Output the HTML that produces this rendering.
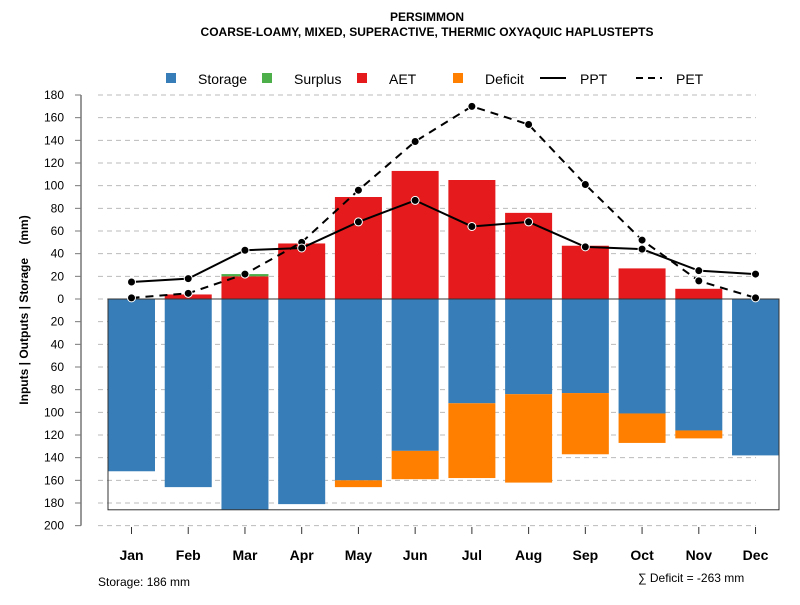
<!DOCTYPE html>
<html><head><meta charset="utf-8"><style>
body{margin:0;background:#fff}
svg text{font-family:"Liberation Sans",Arial,sans-serif}
</style></head><body>
<svg id="c" width="800" height="600">
<text x="427" y="21" text-anchor="middle" font-size="12" font-weight="bold">PERSIMMON</text>
<text x="427" y="36" text-anchor="middle" font-size="12" font-weight="bold">COARSE-LOAMY, MIXED, SUPERACTIVE, THERMIC OXYAQUIC HAPLUSTEPTS</text>
<g id="legend">
<rect x="166" y="73" width="10" height="10" fill="#377eb8"/>
<text x="198" y="84" font-size="14">Storage</text>
<rect x="262" y="73" width="10" height="10" fill="#4daf4a"/>
<text x="294" y="84" font-size="14">Surplus</text>
<rect x="357" y="73" width="10" height="10" fill="#e41a1c"/>
<text x="389" y="84" font-size="14">AET</text>
<rect x="453" y="73" width="10" height="10" fill="#ff7f00"/>
<text x="485" y="84" font-size="14">Deficit</text>
<line x1="540" y1="78" x2="566" y2="78" stroke="#000" stroke-width="2"/>
<text x="580" y="84" font-size="14">PPT</text>
<line x1="636" y1="78" x2="662" y2="78" stroke="#000" stroke-width="2" stroke-dasharray="7,5"/>
<text x="676" y="84" font-size="14">PET</text>
</g>
<text transform="translate(28,310) rotate(-90)" text-anchor="middle" font-size="12" font-weight="bold">Inputs | Outputs | Storage &#160;&#160;&#160;(mm)</text>
<text x="98" y="586" font-size="12">Storage: 186 mm</text>
<text x="638" y="582" font-size="12">∑ Deficit = -263 mm</text>
</svg>
<script>
const months=["Jan","Feb","Mar","Apr","May","Jun","Jul","Aug","Sep","Oct","Nov","Dec"];
const aet=[0,4,20,49,90,113,105,76,47,27,9,0];
const surplus=[0,0,2,0,0,0,0,0,0,0,0,0];
const storage=[152,166,186,181,160,134,92,84,83,101,116,138];
const deficit=[0,0,0,0,6,25,66,78,54,26,7,0];
const ppt=[15,18,43,45,68,87,64,68,46,44,25,22];
const pet=[1,5,22,50,96,139,170,154,101,52,16,1];
const yTicks=[180,160,140,120,100,80,60,40,20,0,-20,-40,-60,-80,-100,-120,-140,-160,-180,-200];
const maxStorage=186;
const NS="http://www.w3.org/2000/svg";
const svg=document.getElementById('c');
const y=v=>299-v*1.1333;
const x=i=>131.5+i*56.73;
const bw=47;
function mk(t,a,p){const e=document.createElementNS(NS,t);for(const k in a)e.setAttribute(k,a[k]);(p||svg).appendChild(e);return e;}
yTicks.forEach(v=>{
 const g=mk('line',{x1:98,x2:756,y1:y(v),y2:y(v),stroke:'#bbb','stroke-dasharray':'5,4'});
 
 
 const t=mk('line',{x1:75,x2:81,y1:y(v),y2:y(v),stroke:'#777'});
 
 
 const l=mk('text',{x:64,y:y(v)+4,'text-anchor':'end','font-size':12});
 l.textContent=Math.abs(v);
 
 
});
const ax=mk('line',{x1:81,x2:81,y1:y(180),y2:y(-200),stroke:'#777','stroke-width':1.5});


months.forEach((m,i)=>{
 const cx=x(i);
 let r=mk('rect',{x:cx-bw/2,y:y(0),width:bw,height:storage[i]*1.1333,fill:'#377eb8'});
 
 
 r=mk('rect',{x:cx-bw/2,y:y(-storage[i]),width:bw,height:deficit[i]*1.1333,fill:'#ff7f00'});
 
 
 r=mk('rect',{x:cx-bw/2,y:y(aet[i]),width:bw,height:aet[i]*1.1333,fill:'#e41a1c'});
 
 
 r=mk('rect',{x:cx-bw/2,y:y(aet[i]+surplus[i]),width:bw,height:surplus[i]*1.1333,fill:'#4daf4a'});
 
 
 const tk=mk('line',{x1:cx,x2:cx,y1:527,y2:534,stroke:'#333'});
 
 
 const tl=mk('text',{x:cx,y:560,'text-anchor':'middle','font-size':14,'font-weight':'bold'});
 tl.textContent=m;
 
 
});
const box=mk('rect',{x:108,y:y(0),width:671,height:maxStorage*1.1333,fill:'none',stroke:'#333'});


function series(d,dash,name){
 const p=mk('polyline',{points:d.map((v,i)=>x(i)+','+y(v)).join(' '),fill:'none',stroke:'#000','stroke-width':2,'stroke-dasharray':dash});
 
 
 d.forEach((v,i)=>{
  const c=mk('circle',{cx:x(i),cy:y(v),r:4,fill:'#000',stroke:'#fff','stroke-width':1});
  
  
 });
}
series(pet,'8,6','pet');
series(ppt,'none','ppt');
</script>
</body></html>
